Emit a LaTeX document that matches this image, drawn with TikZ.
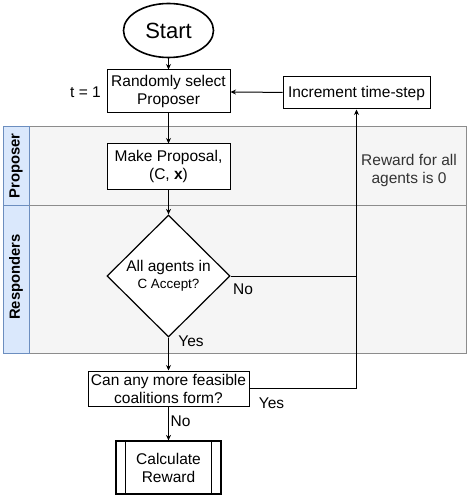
\documentclass[tikz,border=0pt]{standalone}
\usepackage{fontspec}
\setmainfont{Liberation Sans}
\usetikzlibrary{shapes.geometric,arrows.meta}
\definecolor{lanefill}{HTML}{F5F5F5}
\definecolor{laneline}{HTML}{8C8C8C}
\definecolor{headfill}{HTML}{DAE8FC}
\definecolor{headline}{HTML}{6C8EBF}
\definecolor{labgray}{HTML}{333333}
\begin{document}
\begin{tikzpicture}[x=1pt,y=-1pt,
  every node/.style={font=\fontsize{15.5}{18}\selectfont, text=black},
  box/.style={draw=black, fill=white, line width=1pt, rectangle, inner sep=0pt, align=center},
  conn/.style={draw=black, line width=1pt},
  arr/.style={conn, -{Stealth[length=5.5pt,width=5pt]}},
  lab/.style={inner sep=0pt},
  headtxt/.style={font=\bfseries\fontsize{14.8}{17}\selectfont, rotate=90, inner sep=0pt}
]
\useasboundingbox (0,0) rectangle (467,497);
% swimlanes
\path[fill=lanefill, draw=laneline, line width=1pt] (3,127) rectangle (466,353);
\path[fill=headfill, draw=headline, line width=1pt] (3,127) rectangle (29,353);
\draw[laneline, line width=1pt] (29,205) -- (466,205);
\draw[headline, line width=1pt] (3,205) -- (29,205);
\node[headtxt] (hprop) at (16,166) {Proposer};
\node[headtxt] (hresp) at (16,277) {Responders};
% nodes
\node[draw=black, fill=white, line width=1.6pt, ellipse, minimum width=90pt, minimum height=54pt, inner sep=0pt,
      font=\fontsize{22}{25}\selectfont] (start) at (168.5,30.5) {Start};
\node[box, minimum width=123pt, minimum height=43pt] (sel) at (168.5,91.5) {Randomly select\\Proposer};
\node[box, minimum width=147pt, minimum height=32pt] (inc) at (356.5,93) {Increment time-step};
\node[box, minimum width=123pt, minimum height=45pt] (prop) at (168.5,166.5) {Make Proposal,\\(C, \textbf{x})};
\node[draw=black, fill=white, line width=1.2pt, diamond, minimum width=123pt, minimum height=122pt, inner sep=0pt, align=center]
      (dia) at (168.5,276) {All agents in\\[-1pt]{\fontsize{13.4}{16}\selectfont C Accept?}};
\node[box, minimum width=161pt, minimum height=35pt] (can) at (168.5,388.5) {Can any more feasible\\coalitions form?};
\node[box, line width=1.2pt, minimum width=105pt, minimum height=53pt] (calc) at (168.5,467.5) {Calculate\\Reward};
\draw[conn, line width=1.2pt] ([xshift=10pt]calc.north west) -- ([xshift=10pt]calc.south west);
\draw[conn, line width=1.2pt] ([xshift=-10pt]calc.north east) -- ([xshift=-10pt]calc.south east);
\coordinate (jn) at (inc.south |- dia.east);
% connectors
\draw[arr] (start) -- (sel);
\draw[arr] (inc) -- (sel);
\draw[arr] (sel) -- (prop);
\draw[arr] (prop) -- (dia);
\draw[arr] (dia.east) -- (jn) -- (inc.south);
\draw[arr] (dia.south) -- (can.north);
\draw[conn] (can.east) -| (jn);
\draw[arr] (can) -- (calc);
% labels
\node[lab, anchor=east] (t1) at (101,92) {t = 1};
\node[lab] (no1) at (243,289) {No};
\node[lab] (yes1) at (191,341) {Yes};
\node[lab, align=center, text=labgray] (rew) at (409,170) {Reward for all\\agents is 0};
\node[lab] (yes2) at (271.5,403.5) {Yes};
\node[lab] (no2) at (180.5,421.5) {No};
\end{tikzpicture}
\end{document}
